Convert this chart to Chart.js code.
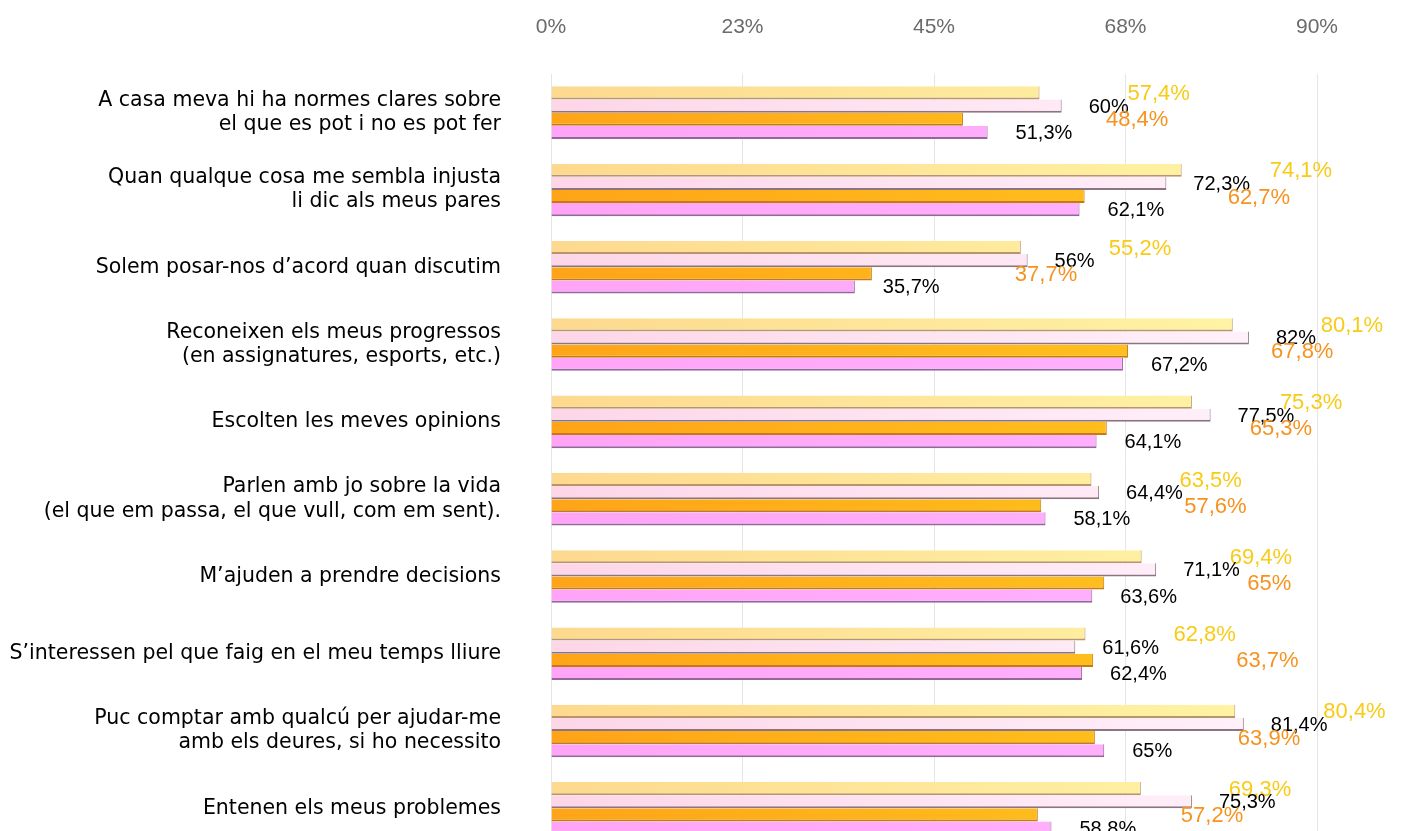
<!DOCTYPE html>
<html lang="ca">
<head>
<meta charset="utf-8">
<title>Relació amb els pares</title>
<script src="https://cdn.jsdelivr.net/npm/chart.js@4.4.1/dist/chart.umd.min.js"></script>
<style>
  html, body { margin: 0; padding: 0; background: #fff; overflow: hidden; }
  canvas { display: block; }
</style>
</head>
<body>
<canvas id="barChart" width="1406" height="850"></canvas>
<script>
// categories (multi-line labels as arrays)
const categories = [
  ['A casa meva hi ha normes clares sobre', 'el que es pot i no es pot fer'],
  ['Quan qualque cosa me sembla injusta', 'li dic als meus pares'],
  'Solem posar-nos d’acord quan discutim',
  ['Reconeixen els meus progressos', '(en assignatures, esports, etc.)'],
  'Escolten les meves opinions',
  ['Parlen amb jo sobre la vida', '(el que em passa, el que vull, com em sent).'],
  'M’ajuden a prendre decisions',
  'S’interessen pel que faig en el meu temps lliure',
  ['Puc comptar amb qualcú per ajudar-me', 'amb els deures, si ho necessito'],
  'Entenen els meus problemes'
];

// values per series (%), top bar to bottom bar in each group
const serieGroga = [57.4, 74.1, 55.2, 80.1, 75.3, 63.5, 69.4, 62.8, 80.4, 69.3];
const serieBlanca = [60, 72.3, 56, 82, 77.5, 64.4, 71.1, 61.6, 81.4, 75.3];
const serieTaronja = [48.4, 62.7, 37.7, 67.8, 65.3, 57.6, 65, 63.7, 63.9, 57.2];
const serieRosa = [51.3, 62.1, 35.7, 67.2, 64.1, 58.1, 63.6, 62.4, 65, 58.8];

// axis tick labels
const tickLabels = ['0%', '23%', '45%', '68%', '90%'];

// horizontal gradient across the plot area
function gradient(c1, c2) {
  return function (context) {
    const chart = context.chart;
    const area = chart.chartArea;
    if (!area) return c1;
    const g = chart.ctx.createLinearGradient(area.left, 0, area.right, 0);
    g.addColorStop(0, c1);
    g.addColorStop(1, c2);
    return g;
  };
}

// value labels next to the bars
const valueLabels = {
  id: 'valueLabels',
  afterDatasetsDraw(chart, args, opts) {
    const ctx = chart.ctx;
    chart.data.datasets.forEach((ds, i) => {
      const meta = chart.getDatasetMeta(i);
      const st = opts.styles[i];
      ctx.save();
      ctx.font = st.font;
      ctx.fillStyle = st.color;
      ctx.textAlign = 'left';
      ctx.textBaseline = 'middle';
      meta.data.forEach((bar, j) => {
        const txt = String(ds.data[j]).replace('.', ',') + '%';
        ctx.fillText(txt, bar.x + st.offset, bar.y + 1);
      });
      ctx.restore();
    });
  }
};

const bw = { top: 0, right: 1, bottom: 2, left: 0 };

const ctx = document.getElementById('barChart').getContext('2d');
const chart = new Chart(ctx, {
  type: 'bar',
  data: {
    labels: categories,
    datasets: [
      {
        label: 'Sèrie 1',
        data: serieGroga,
        backgroundColor: gradient('#fdd98f', '#fff6a6'),
        borderColor: '#b8956a',
        borderWidth: bw,
        borderSkipped: false
      },
      {
        label: 'Sèrie 2',
        data: serieBlanca,
        backgroundColor: gradient('#fdd6e8', '#fff3fc'),
        borderColor: '#8c7480',
        borderWidth: bw,
        borderSkipped: false
      },
      {
        label: 'Sèrie 3',
        data: serieTaronja,
        backgroundColor: gradient('#ffa418', '#ffc81e'),
        borderColor: '#c47a16',
        borderWidth: bw,
        borderSkipped: false
      },
      {
        label: 'Sèrie 4',
        data: serieRosa,
        backgroundColor: gradient('#ffa4f6', '#ffb4ff'),
        borderColor: '#93679c',
        borderWidth: bw,
        borderSkipped: false
      }
    ]
  },
  options: {
    indexAxis: 'y',
    responsive: false,
    animation: false,
    layout: { padding: { top: 16, right: 89, bottom: 3, left: 0 } },
    datasets: {
      bar: { categoryPercentage: 0.68, barPercentage: 1 }
    },
    scales: {
      x: {
        position: 'top',
        min: 0,
        max: 90,
        ticks: {
          stepSize: 22.5,
          padding: 34,
          color: '#6b6b6b',
          font: { family: 'Liberation Sans', size: 21 },
          callback: (v, i) => tickLabels[i]
        },
        grid: { color: '#e6e6e6', drawTicks: false },
        border: { display: false },
        // fit() counts the tick padding twice, fix the axis height instead
        afterFit: (axis) => { axis.height = 58; }
      },
      y: {
        ticks: {
          padding: 0,
          color: '#000',
          font: { family: 'DejaVu Sans', size: 20.5, lineHeight: 1.18 }
        },
        // tick marks hidden (grid off), tickLength only spaces the labels
        grid: { display: false, drawTicks: true, tickLength: 50 },
        border: { display: false },
        afterFit: (axis) => {
          axis.width = 551;
          axis.paddingTop = 0;
          axis.paddingBottom = 0;
        }
      }
    },
    plugins: {
      legend: { display: false },
      tooltip: { enabled: false },
      valueLabels: {
        styles: [
          { color: '#f8cb16', font: '22px "Liberation Sans"', offset: 88 },
          { color: '#000', font: '20px "Liberation Sans"', offset: 27 },
          { color: '#f7921e', font: '22px "Liberation Sans"', offset: 143 },
          { color: '#000', font: '20px "Liberation Sans"', offset: 28 }
        ]
      }
    }
  },
  plugins: [valueLabels]
});
</script>
</body>
</html>
